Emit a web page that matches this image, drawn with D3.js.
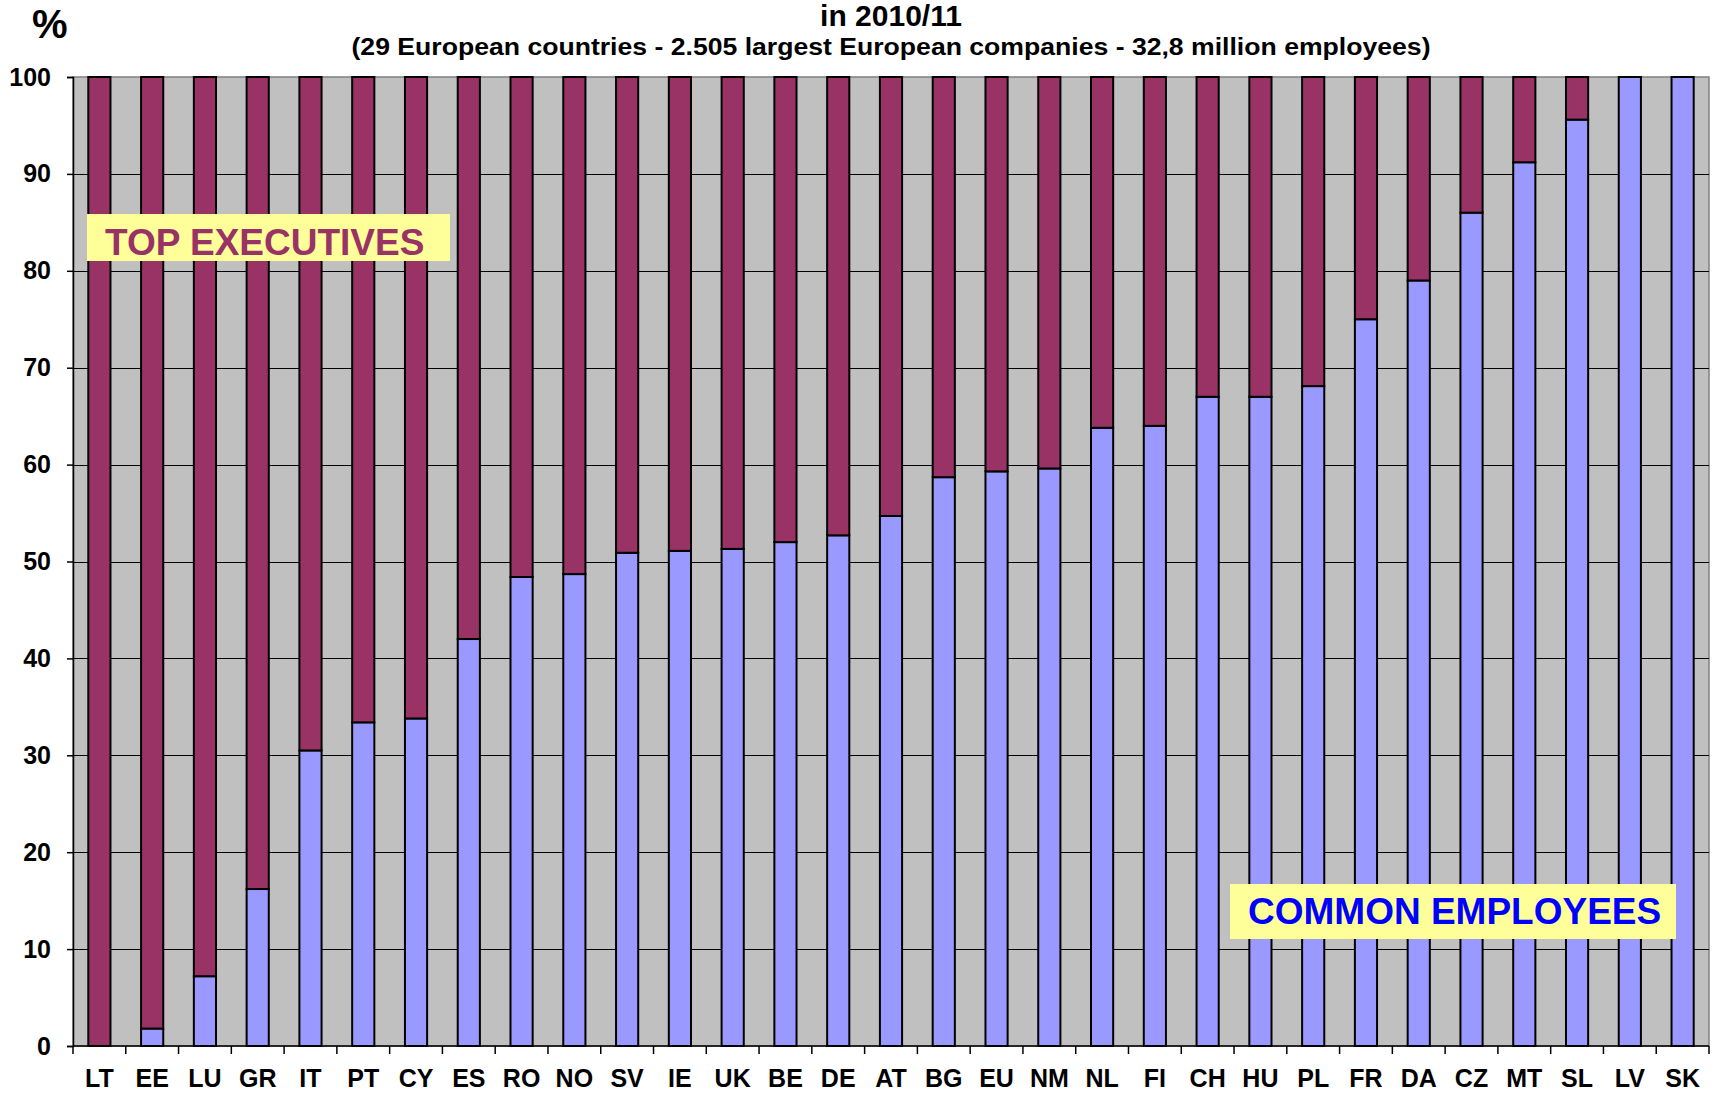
<!DOCTYPE html>
<html>
<head>
<meta charset="utf-8">
<script src="https://cdn.jsdelivr.net/npm/d3@7"></script>
<style>
  html, body { margin: 0; padding: 0; background: #ffffff; }
  svg { display: block; }
  text { font-family: "Liberation Sans", Arial, sans-serif; font-weight: bold; }
</style>
</head>
<body>
<script>
// ---- Data ----
const countries = ["LT","EE","LU","GR","IT","PT","CY","ES","RO","NO","SV","IE","UK","BE","DE","AT","BG","EU","NM","NL","FI","CH","HU","PL","FR","DA","CZ","MT","SL","LV","SK"];
const commonEmployees = [0, 1.8, 7.2, 16.2, 30.5, 33.4, 33.8, 42.0, 48.4, 48.7, 50.9, 51.1, 51.3, 52.0, 52.7, 54.7, 58.7, 59.3, 59.6, 63.8, 64.0, 67.0, 67.0, 68.1, 75.0, 79.0, 86.0, 91.2, 95.6, 100, 100];
const topExecutives = commonEmployees.map(v => 100 - v);
const yTicks = [0, 10, 20, 30, 40, 50, 60, 70, 80, 90, 100];
const titleLine = "in 2010/11";
const subtitleLine = "(29 European countries - 2.505 largest European companies - 32,8 million employees)";
const labelTop = "TOP EXECUTIVES";
const labelCommon = "COMMON EMPLOYEES";

// ---- Layout ----
const W = 1712, H = 1097;
const plot = { left: 73, right: 1709, top: 77, bottom: 1046 };

const svg = d3.select("body").append("svg").attr("width", W).attr("height", H);

const x = d3.scaleBand().domain(countries).range([plot.left, plot.right])
  .paddingInner(0.58).paddingOuter(0.29);
const xOuter = d3.scaleBand().domain(countries).range([plot.left, plot.right]).padding(0);
const y = d3.scaleLinear().domain([0, 100]).range([plot.bottom, plot.top]);

// plot background
svg.append("rect").attr("x", plot.left).attr("y", plot.top)
  .attr("width", plot.right - plot.left).attr("height", plot.bottom - plot.top)
  .attr("fill", "#c0c0c0").attr("stroke", "#808080").attr("stroke-width", 1.5);

// gridlines
svg.append("g").selectAll("line").data(yTicks.filter(t => t > 0 && t < 100)).join("line")
  .attr("x1", plot.left).attr("x2", plot.right)
  .attr("y1", d => Math.round(y(d)) + 0.5).attr("y2", d => Math.round(y(d)) + 0.5)
  .attr("stroke", "#000").attr("stroke-width", 1);

// stacked bars
const rows = countries.map((c, i) => ({ country: c, common: commonEmployees[i], top: topExecutives[i] }));
const stack = d3.stack().keys(["common", "top"])(rows);
const colors = { common: "#9999ff", top: "#993366" };
svg.append("g").selectAll("g").data(stack).join("g")
  .attr("fill", d => colors[d.key])
  .selectAll("rect").data(d => d.filter(s => s[1] - s[0] > 0)).join("rect")
  .attr("x", d => x(d.data.country))
  .attr("width", x.bandwidth())
  .attr("y", d => y(d[1]))
  .attr("height", d => y(d[0]) - y(d[1]))
  .attr("stroke", "#000").attr("stroke-width", 2);

// Y axis
const yAxis = d3.axisLeft(y).tickValues(yTicks).tickSize(6).tickPadding(16).tickFormat(d3.format("d"));
const gy = svg.append("g").attr("transform", `translate(${plot.left},0)`).call(yAxis);
gy.select(".domain").attr("stroke", "#000").attr("stroke-width", 1.5);
gy.selectAll(".tick line").attr("stroke", "#000").attr("stroke-width", 1.5);
gy.selectAll(".tick text").attr("font-size", 25).attr("fill", "#000")
  .attr("font-family", '"Liberation Sans", Arial, sans-serif').attr("font-weight", "bold");

// X axis (ticks at category boundaries)
const gx = svg.append("g").attr("transform", `translate(0,${plot.bottom})`);
gx.append("line").attr("x1", plot.left).attr("x2", plot.right).attr("y1", 0).attr("y2", 0)
  .attr("stroke", "#000").attr("stroke-width", 1.5);
const boundaries = countries.map(c => xOuter(c)).concat([plot.right]);
gx.selectAll("line.tk").data(boundaries).join("line").attr("class", "tk")
  .attr("x1", d => d).attr("x2", d => d).attr("y1", 0).attr("y2", 8)
  .attr("stroke", "#000").attr("stroke-width", 1.5);
gx.selectAll("text").data(countries).join("text")
  .attr("x", d => xOuter(d) + xOuter.bandwidth() / 2)
  .attr("y", 41)
  .attr("text-anchor", "middle").attr("font-size", 25).attr("fill", "#000")
  .text(d => d);

// Titles
const cx = (plot.left + plot.right) / 2;
svg.append("text").attr("x", cx).attr("y", 26).attr("text-anchor", "middle")
  .attr("font-size", 30).attr("fill", "#000").text(titleLine);
svg.append("text").attr("x", cx).attr("y", 55).attr("text-anchor", "middle")
  .attr("font-size", 23).attr("fill", "#000")
  .attr("textLength", 1079).attr("lengthAdjust", "spacingAndGlyphs")
  .text(subtitleLine);
svg.append("text").attr("x", 32).attr("y", 38).attr("font-size", 40).attr("fill", "#000").text("%");

// Annotation boxes
function labelBox(bx, by, bw, bh, tx, ty, txt, color) {
  svg.append("rect").attr("x", bx).attr("y", by).attr("width", bw).attr("height", bh).attr("fill", "#ffff99");
  svg.append("text").attr("x", tx).attr("y", ty).attr("font-size", 37).attr("fill", color).text(txt);
}
labelBox(87, 214, 363, 47, 105, 255, labelTop, "#993366");
labelBox(1230, 884, 446, 55, 1248, 924, labelCommon, "#0000ff");
</script>
</body>
</html>
